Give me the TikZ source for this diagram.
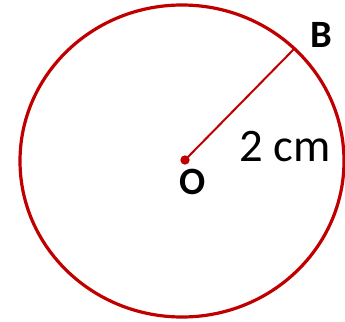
\documentclass[tikz,border=0pt]{standalone}
\usepackage{fontspec}
\setmainfont{Carlito}
\usepackage{xcolor}
\definecolor{darkred}{HTML}{C00000}

\begin{document}
\begin{tikzpicture}[
    x=0.75pt, y=-0.75pt,
    every node/.style={inner sep=0pt, text=black},
    pointlabel/.style={font=\fontsize{29}{31}\selectfont\bfseries},
    lengthlabel/.style={font=\fontsize{35}{37}\selectfont},
    centredot/.style={circle, fill=darkred, minimum size=7pt},
  ]
  \useasboundingbox (0,0) rectangle (345,321);

  % Circle and centre
  \draw[darkred, line width=2.4pt] (182,161) ellipse [x radius=121.5pt, y radius=117pt];
  \node[centredot] (O) at (185,160) {};
  \coordinate (B) at (295,48);

  % Radius
  \draw[darkred, line width=1.5pt] (O.center) -- (B);

  % Labels
  \node[pointlabel] (lblB) at (321,35) {B};
  \node[pointlabel] (lblO) at (193,182) {O};
  \node[lengthlabel] (lblR) at (285,147) {2 cm};

\end{tikzpicture}
\end{document}
